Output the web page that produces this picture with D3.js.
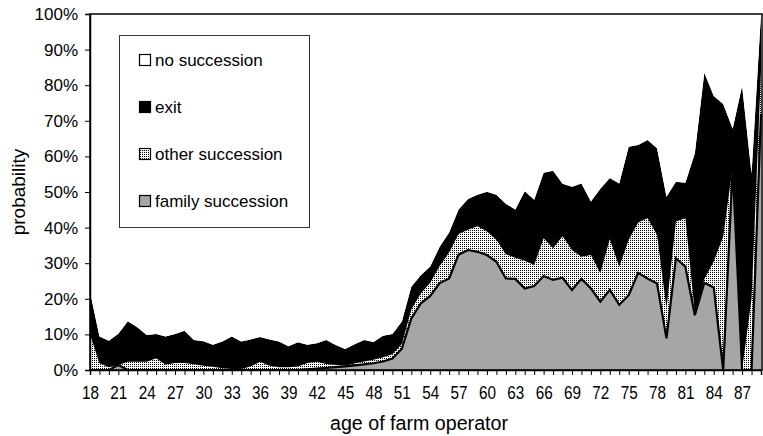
<!DOCTYPE html>
<html><head><meta charset="utf-8">
<script src="https://cdn.jsdelivr.net/npm/d3@7/dist/d3.min.js"></script>
<style>body{margin:0;background:#fff} svg{display:block} text{font-family:"Liberation Sans",Arial,sans-serif;fill:#000}</style>
</head><body><svg id="c" width="763" height="436"></svg>
<script>
const ages = [18,19,20,21,22,23,24,25,26,27,28,29,30,31,32,33,34,35,36,37,38,39,40,41,42,43,44,45,46,47,48,49,50,51,52,53,54,55,56,57,58,59,60,61,62,63,64,65,66,67,68,69,70,71,72,73,74,75,76,77,78,79,80,81,82,83,84,85,86,87,88,89];
const familySuccession = [0,0,0,1.4,0,0,0,0,0,0,0,0,0,0,0,0,0,0,0,0,0,0,0,0.2,0.4,0.6,0.8,1,1.3,1.6,1.9,2.4,3.2,6,14.5,18.7,20.8,24.4,25.7,32.4,33.7,33.2,32.3,30.4,25.7,25.6,22.9,23.6,26.4,25.3,25.9,22.5,25.6,22.9,19.2,22.5,18.3,21,27.3,25.7,24.3,8.9,31.4,29,15.4,24.5,23.2,0,57,0,0,72];
const otherSuccession = [10,1.9,0.8,0,2.3,2.3,2.3,3.3,1.5,2,2,1.6,1.2,0.9,0.5,0.3,0.3,1,2.3,1.2,0.8,0.8,1,1.8,1.9,1.1,0.6,0.2,0.5,0.8,1,1.2,1.2,1.3,2.5,2.8,3.7,4.8,7.3,5.8,5.7,7.2,6.6,6.2,6.8,5.9,7.8,5.9,10.6,8.9,11.7,11.2,6.2,9.4,8,14.2,10.7,15.5,14.1,16.9,13.6,8.4,10.3,13.6,0.5,1,7.3,37.4,0,0,20,12];
const exitFarm = [12,7.5,7.4,8.8,11.4,9.7,7.5,6.8,7.9,8.1,9,6.8,6.9,6.2,7.5,9.1,7.7,7.6,7,7.4,7.2,5.9,6.8,5.1,5.2,6.7,5.6,4.7,5.4,6,5,6,5.7,6.3,6.4,5.1,4.6,5.4,5.6,6.9,8.6,8.8,11.2,12.6,14.2,13.6,19.5,18.3,18.4,21.8,14.7,17.8,20.6,15,23.7,17.2,23.4,26.2,21.8,22,24.4,31.4,11.2,10,45,58,46.5,37.3,10.8,79.8,35.2,16];
const noSuccession = [78,90.6,91.8,89.8,86.3,88,90.2,89.9,90.6,89.9,89,91.6,91.9,92.9,92,90.6,92,91.4,90.7,91.4,92,93.3,92.2,92.9,92.5,91.6,93,94.1,92.8,91.6,92.1,90.4,89.9,86.4,76.6,73.4,70.9,65.4,61.4,54.9,52,50.8,49.9,50.8,53.3,54.9,49.8,52.2,44.6,44,47.7,48.5,47.6,52.7,49.1,46.1,47.6,37.3,36.8,35.4,37.7,51.3,47.1,47.4,39.1,16.5,23,25.3,32.2,20.2,44.8,0];
const seriesNames = ["family succession","other succession","exit","no succession"];
const xTickLabels = ["18","21","24","27","30","33","36","39","42","45","48","51","54","57","60","63","66","69","72","75","78","81","84","87"];
const yTickValues = [0,10,20,30,40,50,60,70,80,90,100];
const yTickLabels = ["0%","10%","20%","30%","40%","50%","60%","70%","80%","90%","100%"];

const svg = d3.select("#c");
const L = 90, R = 761, T = 14, B = 370;
const x = d3.scaleLinear().domain([ages[0], ages[ages.length-1]]).range([L, R]);
const y = d3.scaleLinear().domain([0, 100]).range([B, T]);

const defs = svg.append("defs");
const pat = defs.append("pattern").attr("id","dots").attr("patternUnits","userSpaceOnUse").attr("width",2).attr("height",2);
pat.append("rect").attr("width",2).attr("height",2).attr("fill","#fff");
pat.append("rect").attr("width",1).attr("height",1).attr("fill","#000");

const rows = ages.map((a,i)=>({age:a, family:familySuccession[i], other:otherSuccession[i], exit:exitFarm[i], none:noSuccession[i]}));
const keys = ["family","other","exit","none"];
const fills = {family:"#a6a6a6", other:"url(#dots)", exit:"#000", none:"#fff"};
const stack = d3.stack().keys(keys)(rows);
const area = d3.area().x(d=>x(d.data.age)).y0(d=>y(d[0])).y1(d=>y(Math.min(100,d[1])));

svg.append("g").selectAll("path").data(stack).join("path")
  .attr("d", area).attr("fill", d=>fills[d.key]).attr("stroke","none");

// family outline
svg.append("path").datum(rows)
  .attr("d", d3.line().x(d=>x(d.age)).y(d=>y(d.family)))
  .attr("fill","none").attr("stroke","#000").attr("stroke-width",2.2).attr("stroke-linejoin","miter");

// frame
svg.append("rect").attr("x",L).attr("y",T).attr("width",R+1-L).attr("height",B-T)
  .attr("fill","none").attr("stroke","#000").attr("stroke-width",1.5);

// y axis
const yAxis = d3.axisLeft(y).tickValues(yTickValues).tickFormat((d,i)=>yTickLabels[i]).tickSize(5).tickPadding(7);
const gy = svg.append("g").attr("transform",`translate(${L},0)`).call(yAxis);
gy.select(".domain").attr("stroke","#000").attr("stroke-width",1.5);
gy.selectAll("text").style("font-size","17px").attr("font-family",null);

// x axis
const xAxis = d3.axisBottom(x).tickValues(ages).tickFormat(d=> xTickLabels.includes(String(d)) ? String(d) : "").tickSize(5).tickPadding(11);
const gx = svg.append("g").attr("transform",`translate(0,${B})`).call(xAxis);
gx.select(".domain").attr("stroke","#000").attr("stroke-width",1.5);
gx.selectAll("text").style("font-size","19px").attr("font-family",null)
  .filter(function(){return this.textContent!=="";})
  .attr("textLength",17).attr("lengthAdjust","spacingAndGlyphs");

svg.append("text").attr("x",419).attr("y",430).attr("text-anchor","middle").style("font-size","20px")
  .attr("textLength",178).attr("lengthAdjust","spacingAndGlyphs").text("age of farm operator");
svg.append("text").attr("transform","translate(25,192) rotate(-90)").attr("text-anchor","middle").style("font-size","19px").text("probability");

// legend
const lg = svg.append("g");
lg.append("rect").attr("x",119.5).attr("y",35.5).attr("width",190).attr("height",192).attr("fill","#fff").attr("stroke","#333").attr("stroke-width",1);
const legendOrder = ["none","exit","other","family"];
const legendNames = {none:"no succession", exit:"exit", other:"other succession", family:"family succession"};
legendOrder.forEach((k,i)=>{
  const cy = 60 + i*47;
  lg.append("rect").attr("x",139.5).attr("y",cy-5.5).attr("width",11).attr("height",11).attr("fill",fills[k]).attr("stroke","#000").attr("stroke-width",1.2);
  lg.append("text").attr("x",155).attr("y",cy+6).style("font-size","17px").text(legendNames[k]);
});
</script></body></html>
